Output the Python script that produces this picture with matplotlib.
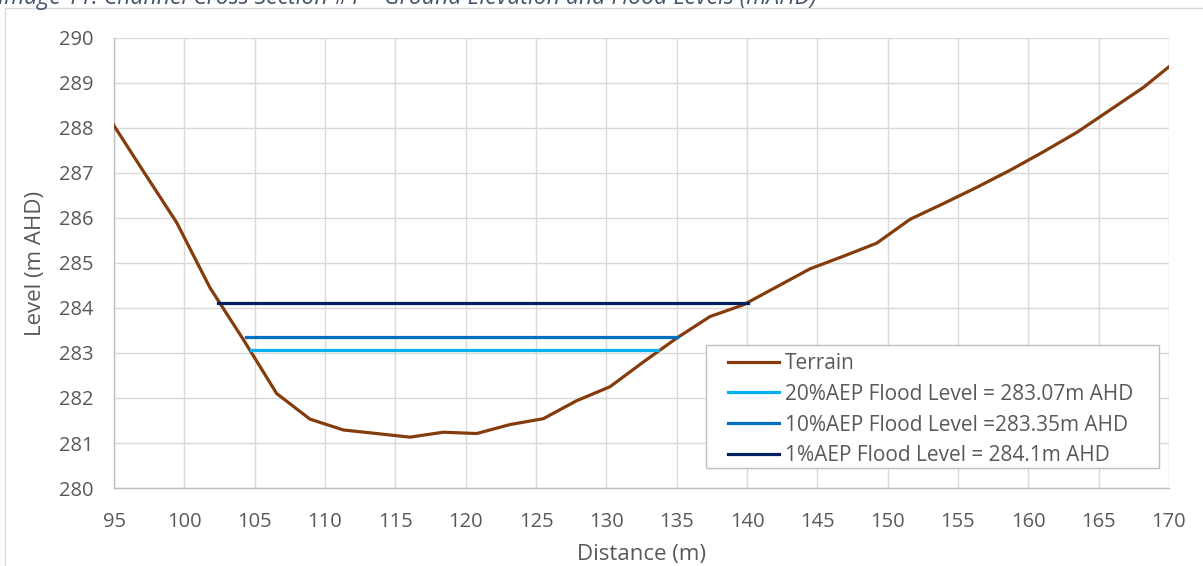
import matplotlib.pyplot as plt
from matplotlib.patches import Rectangle

# terrain cross section (distance m, level m AHD)
distance = [94.71, 97.08, 99.45, 101.82, 104.19, 106.56, 108.93, 111.30, 113.67,
            116.04, 118.41, 120.78, 123.15, 125.52, 127.89, 130.26, 132.63, 135.00,
            137.37, 139.74, 142.11, 144.48, 146.85, 149.22, 151.59, 153.96, 156.33,
            158.70, 161.07, 163.44, 165.81, 168.18, 170.55]
level = [288.19, 287.04, 285.90, 284.45, 283.30, 282.10, 281.53, 281.29, 281.21,
         281.13, 281.24, 281.21, 281.41, 281.54, 281.94, 282.25, 282.80, 283.33,
         283.81, 284.07, 284.47, 284.87, 285.15, 285.44, 285.97, 286.32, 286.68,
         287.06, 287.47, 287.90, 288.40, 288.90, 289.50]

# flood levels: label, level, start, end
flood_labels = ['20%AEP Flood Level = 283.07m AHD',
                '10%AEP Flood Level =283.35m AHD',
                '1%AEP Flood Level = 284.1m AHD']
flood_levels = [283.07, 283.35, 284.1]
flood_start = [104.75, 104.38, 102.42]
flood_end = [133.65, 135.05, 140.05]
flood_colors = ['#00B0F0', '#0070C0', '#002060']

plt.rcParams['font.family'] = ['Open Sans', 'DejaVu Sans']

fig = plt.figure(figsize=(12.03, 5.66), dpi=100)
ax = fig.add_axes([0.0948, 0.1378, 0.8769, 0.7951])

# outer chart border and caption (caption is cut at the top in the source image)
fig.patches.append(Rectangle((5 / 1203, -0.1), 1.2, 1 - 8 / 566 + 0.1,
                             transform=fig.transFigure, fill=False,
                             edgecolor='#D9D9D9', lw=1))
fig.text(-0.002, 1 - 4 / 566,
         'Image 11: Channel Cross Section #1 \u2013 Ground Elevation and Flood Levels (mAHD)',
         fontsize=16.6, style='italic', color='#44546A', va='baseline', ha='left')

ax.plot(distance, level, color='#843C0C', lw=2.3, label='Terrain', zorder=3)
for lab, lv, x0, x1, c in zip(flood_labels, flood_levels, flood_start, flood_end, flood_colors):
    ax.plot([x0, x1], [lv, lv], color=c, lw=2.3, label=lab, zorder=3)

ax.set_xlim(95, 170)
ax.set_ylim(280, 290)
ax.set_xticks(range(95, 171, 5))
ax.set_yticks(range(280, 291, 1))
ax.grid(True, color='#D9D9D9', lw=1)
ax.set_axisbelow(True)
for s in ['top', 'right']:
    ax.spines[s].set_visible(False)
for s in ['left', 'bottom']:
    ax.spines[s].set_color('#BFBFBF')
    ax.spines[s].set_linewidth(1)
ax.tick_params(length=0, labelsize=14.5, colors='#595959')
ax.tick_params(axis='x', pad=17)
ax.tick_params(axis='y', pad=15)

ax.set_xlabel('Distance (m)', fontsize=16, color='#595959', labelpad=9)
ax.set_ylabel('Level (m AHD)', fontsize=16, color='#595959', labelpad=9)

# legend box drawn separately so the side padding can be wider than the top/bottom
ax.add_patch(Rectangle((0.5611, 0.0444), 0.4294, 0.2734, transform=ax.transAxes,
                       facecolor='white', edgecolor='#BFBFBF', lw=1, zorder=4))
leg = ax.legend(loc='upper left', bbox_to_anchor=(0.5820, 0.3001), borderaxespad=0,
                borderpad=0, fontsize=15, frameon=False,
                handlelength=2.45, handletextpad=0.3, labelspacing=0.47,
                labelcolor='#595959')
leg.set_zorder(5)

fig.savefig('out.png', dpi=100)
